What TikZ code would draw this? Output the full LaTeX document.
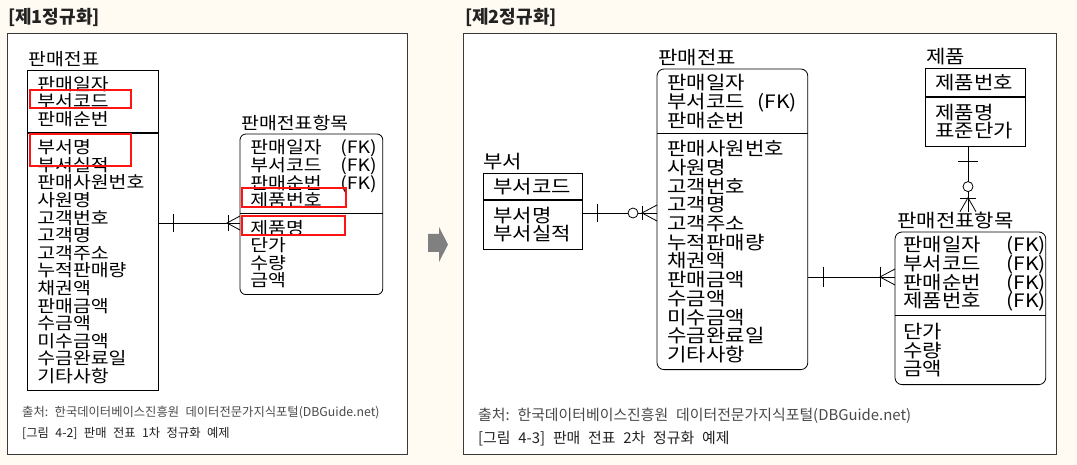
\documentclass[tikz,border=0pt]{standalone}
\usepackage{fontspec}
\setmainfont{Noto Sans CJK KR}
\newfontfamily\entfont{Noto Sans CJK KR}[FakeStretch=1.14]
\usetikzlibrary{positioning}

\definecolor{bgcream}{HTML}{FFFAF2}
\definecolor{panelline}{HTML}{3A3A3A}
\definecolor{hlred}{HTML}{FF1414}
\definecolor{arrowgray}{HTML}{808080}
\definecolor{srcgray}{HTML}{4A4A4A}
\definecolor{capblack}{HTML}{222222}

\newcommand{\fkrow}[2][90pt]{\makebox[#1][l]{#2}(FK)}
\newcommand{\capgap}{\ \hspace{0.3em}}
\newcommand{\tightlines}{\lineskiplimit=-30pt\relax\lineskip=0pt\relax}

\tikzset{
  panel/.style={draw=panelline, fill=white, line width=0.9pt},
  paneltitle/.style={anchor=west, inner sep=0pt, text=capblack,
    font=\fontsize{18}{20}\selectfont\bfseries},
  lent/.style={draw, line width=0.8pt, align=left, inner xsep=10pt, inner ysep=0pt,
    font=\entfont\fontsize{17}{17.6}\selectfont\tightlines},
  rent/.style={lent, font=\entfont\fontsize{18.5}{18.7}\selectfont\tightlines},
  lname/.style={inner sep=0pt, font=\entfont\fontsize{17}{17}\selectfont},
  rname/.style={inner sep=0pt, font=\entfont\fontsize{18.5}{18.5}\selectfont},
  rel/.style={line width=0.8pt},
  hl/.style={draw=hlred, line width=2.4pt},
  srcnote/.style={anchor=west, inner sep=0pt, text=srcgray},
  figcap/.style={anchor=west, inner sep=0pt, text=capblack}
}

\begin{document}
\begin{tikzpicture}[x=1pt,y=-1pt]
\path[use as bounding box, fill=bgcream] (0,0) rectangle (1077,465);

% panels
\draw[panel] (7,33) rectangle (407,454);
\draw[panel] (463,33) rectangle (1056,454);
\node[paneltitle] (t1) at (8,17) {[제1정규화]};
\node[paneltitle] (t2) at (465,17) {[제2정규화]};

% ---- 1st normal form
\node[lent, text width=111, minimum height=62, anchor=north west] (sp1k) at (27,70)
  {판매일자\\부서코드\\판매순번};
\node[lent, text width=111, minimum height=257, below=0pt of sp1k] (sp1a)
  {부서명\\부서실적\\판매사원번호\\사원명\\고객번호\\고객명\\고객주소\\누적판매량\\채권액\\판매금액\\수금액\\미수금액\\수금완료일\\기타사항};
\node[lname, above right=3pt and 1pt of sp1k.north west] (sp1l) {판매전표};

\node[lent, draw=none, text width=122, minimum height=79, anchor=north west] (si1k) at (240,134)
  {\fkrow{판매일자}\\\fkrow{부서코드}\\\fkrow{판매순번}\\제품번호};
\node[lent, draw=none, text width=122, minimum height=80, below=0pt of si1k] (si1a)
  {제품명\\단가\\수량\\금액};
\draw[rel, rounded corners=6pt] (si1k.north west) rectangle (si1a.south east);
\draw[rel] (si1k.south west) -- (si1k.south east);
\node[lname, above right=3pt and 1pt of si1k.north west] (si1l) {판매전표항목};

% one to many
\coordinate (c1a) at (sp1a.east |- 0,223);
\coordinate (c1b) at (si1a.west |- 0,223);
\draw[rel] (c1a) -- (c1b);
\draw[rel] (c1a) ++(15,-9) -- ++(0,18);
\draw[rel] (c1b) ++(-12,-8) -- ++(0,16);
\draw[rel] (c1b) ++(0,-7) -- ++(-13,7) -- ++(13,7);

% highlights
\draw[hl] (30,90) rectangle (131,108);
\draw[hl] (30,134) rectangle (131,166);
\draw[hl] (242,188) rectangle (346,207);
\draw[hl] (242,216) rectangle (345,235);

\node[srcnote, font=\fontsize{12.3}{14}\selectfont] (src1) at (22,413)
  {출처:\capgap 한국데이터베이스진흥원\capgap 데이터전문가지식포털(DBGuide.net)};
\node[figcap, font=\fontsize{12.3}{14}\selectfont] (cap1) at (22,433)
  {[그림\capgap 4-2]\capgap 판매\capgap 전표\capgap 1차\capgap 정규화\capgap 예제};

% arrow between panels
\fill[arrowgray] (428,234) -- (439,234) -- (439,227) -- (448,244.5) -- (439,262)
  -- (439,252) -- (428,252) -- cycle;

% ---- 2nd normal form
\node[rent, text width=79, minimum height=26, anchor=north west] (bsk) at (483,173) {부서코드};
\node[rent, text width=79, minimum height=49, below=0pt of bsk] (bsa) {부서명\\부서실적};
\node[rname, above right=3pt and 0pt of bsk.north west] (bsl) {부서};

\node[rent, draw=none, text width=130, minimum height=64, anchor=north west] (sp2k) at (657,69)
  {판매일자\\\fkrow{부서코드}\\판매순번};
\node[rent, draw=none, text width=130, minimum height=235, below=0pt of sp2k] (sp2a)
  {판매사원번호\\사원명\\고객번호\\고객명\\고객주소\\누적판매량\\채권액\\판매금액\\수금액\\미수금액\\수금완료일\\기타사항};
\draw[rel, rounded corners=7pt] (sp2k.north west) rectangle (sp2a.south east);
\draw[rel] (sp2k.south west) -- (sp2k.south east);
\node[rname, above right=3pt and 1pt of sp2k.north west] (sp2l) {판매전표};

\node[rent, text width=80, minimum height=28, anchor=north west] (jpk) at (925,68) {제품번호};
\node[rent, text width=80, minimum height=49, below=0pt of jpk] (jpa) {제품명\\표준단가};
\node[rname, above right=3pt and 1pt of jpk.north west] (jpl) {제품};

\node[rent, draw=none, inner xsep=8pt, text width=134, minimum height=83, anchor=north west] (si2k) at (895,232)
  {\fkrow[103pt]{판매일자}\\\fkrow[103pt]{부서코드}\\\fkrow[103pt]{판매순번}\\\fkrow[103pt]{제품번호}};
\node[rent, draw=none, inner xsep=8pt, text width=134, minimum height=68, below=0pt of si2k] (si2a)
  {단가\\수량\\금액};
\draw[rel, rounded corners=7pt] (si2k.north west) rectangle (si2a.south east);
\draw[rel] (si2k.south west) -- (si2k.south east);
\node[rname, above right=3pt and 2pt of si2k.north west] (si2l) {판매전표항목};

% 부서 - 판매전표 (one to zero or many)
\coordinate (c2a) at (bsa.east |- 0,213);
\coordinate (c2b) at (sp2a.west |- 0,213);
\draw[rel] (c2a) -- (c2b);
\draw[rel] (c2a) ++(15,-9) -- ++(0,18);
\draw[rel, fill=white] (c2b) ++(-24,0) circle (5);
\draw[rel] (c2b) ++(-15,-7) -- ++(0,14);
\draw[rel] (c2b) ++(0,-8) -- ++(-15,8) -- ++(15,8);

% 판매전표 - 판매전표항목 (one to many)
\coordinate (c3a) at (sp2a.east |- 0,277);
\coordinate (c3b) at (si2k.west |- 0,277);
\draw[rel] (c3a) -- (c3b);
\draw[rel] (c3a) ++(16,-10) -- ++(0,20);
\draw[rel] (c3b) ++(-15,-10) -- ++(0,20);
\draw[rel] (c3b) ++(0,-8) -- ++(-15,8) -- ++(15,8);

% 제품 - 판매전표항목 (one to zero or many)
\coordinate (c4a) at (jpa.south -| 968,0);
\coordinate (c4b) at (si2l.north -| 968,0);
\draw[rel] (c4a) -- (c4b);
\draw[rel] (c4a) ++(-10,15) -- ++(20,0);
\draw[rel, fill=white] (c4a) ++(0,40) circle (5);
\draw[rel] (c4b) ++(-8,-13) -- ++(16,0);
\draw[rel] (c4b) ++(-8,0) -- ++(8,-14) -- ++(8,14);

\node[srcnote, font=\fontsize{14.9}{16}\selectfont] (src2) at (478,416)
  {출처:\capgap 한국데이터베이스진흥원\capgap 데이터전문가지식포털(DBGuide.net)};
\node[figcap, font=\fontsize{14.9}{16}\selectfont] (cap2) at (478,439)
  {[그림\capgap 4-3]\capgap 판매\capgap 전표\capgap 2차\capgap 정규화\capgap 예제};
\end{tikzpicture}
\end{document}
